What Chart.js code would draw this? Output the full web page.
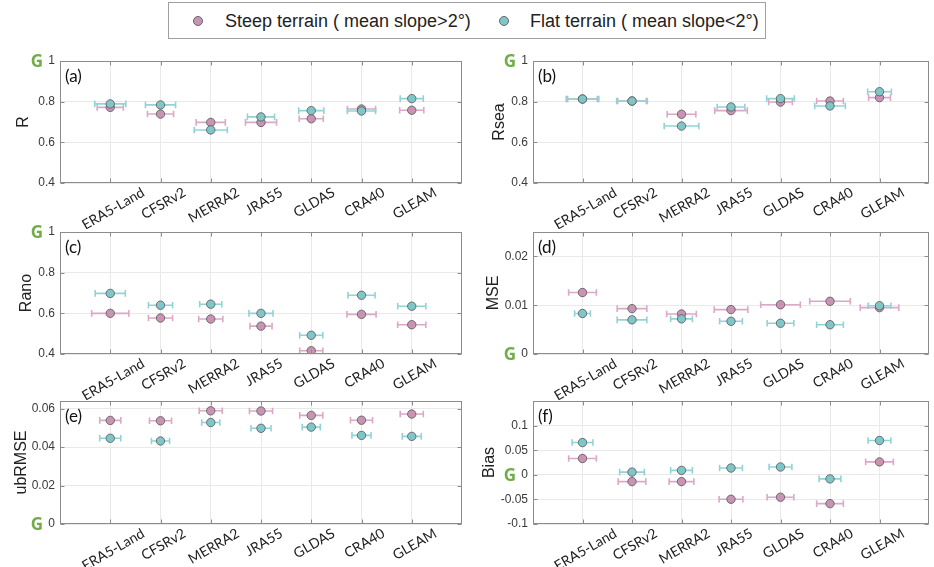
<!DOCTYPE html>
<html>
<head>
<meta charset="utf-8">
<title>Soil moisture products by terrain</title>
<script src="https://cdn.jsdelivr.net/npm/chart.js@4.4.0/dist/chart.umd.min.js"></script>
<style>
  html, body { margin: 0; padding: 0; background: #fff; width: 934px; height: 567px; overflow: hidden; position: relative; }
  canvas { position: absolute; }
  #legend {
    position: absolute; left: 168px; top: 2px; width: 596px; height: 35px;
    border: 1px solid #a0a0a0; font: 18px "Liberation Sans", Arial, sans-serif; color: #222;
  }
  #legend .item { position: absolute; top: 1px; height: 35px; line-height: 35px; white-space: nowrap; }
  #legend .dot {
    position: absolute; top: 13px; width: 10px; height: 10px; border-radius: 50%;
    border: 1px solid #666; box-sizing: border-box;
  }
</style>
</head>
<body>
<div id="legend">
  <span class="dot" style="left:24px;background:#c994b4"></span>
  <span class="item" style="left:56px">Steep terrain ( mean slope&gt;2°)</span>
  <span class="dot" style="left:330px;background:#80c6c9"></span>
  <span class="item" style="left:361px">Flat terrain ( mean slope&lt;2°)</span>
</div>
<canvas id="pa" width="470" height="182" style="left:0;top:47px"></canvas>
<canvas id="pb" width="464" height="182" style="left:470px;top:47px"></canvas>
<canvas id="pc" width="470" height="182" style="left:0;top:218px"></canvas>
<canvas id="pd" width="464" height="182" style="left:470px;top:218px"></canvas>
<canvas id="pe" width="470" height="183" style="left:0;top:387px"></canvas>
<canvas id="pf" width="464" height="183" style="left:470px;top:387px"></canvas>
<script>
const products = ['ERA5-Land', 'CFSRv2', 'MERRA2', 'JRA55', 'GLDAS', 'CRA40', 'GLEAM'];

// R
const rSteep    = [0.772, 0.739, 0.698, 0.698, 0.716, 0.764, 0.758];
const rFlat     = [0.789, 0.784, 0.661, 0.725, 0.756, 0.754, 0.815];
const rSteepErr = [0.26, 0.26, 0.29, 0.31, 0.24, 0.28, 0.24];
const rFlatErr  = [0.31, 0.30, 0.33, 0.27, 0.25, 0.28, 0.23];
// Rsea
const rseaSteep    = [0.813, 0.803, 0.738, 0.756, 0.798, 0.803, 0.820];
const rseaFlat     = [0.813, 0.803, 0.680, 0.774, 0.815, 0.779, 0.849];
const rseaSteepErr = [0.30, 0.29, 0.29, 0.33, 0.24, 0.27, 0.22];
const rseaFlatErr  = [0.33, 0.31, 0.35, 0.28, 0.28, 0.31, 0.24];
// Rano
const ranoSteep    = [0.600, 0.577, 0.572, 0.537, 0.416, 0.595, 0.544];
const ranoFlat     = [0.698, 0.640, 0.645, 0.600, 0.492, 0.689, 0.635];
const ranoSteepErr = [0.37, 0.24, 0.24, 0.22, 0.23, 0.29, 0.28];
const ranoFlatErr  = [0.30, 0.24, 0.22, 0.24, 0.23, 0.27, 0.28];
// MSE
const mseSteep    = [0.0126, 0.0093, 0.0082, 0.0091, 0.0101, 0.0108, 0.0095];
const mseFlat     = [0.0083, 0.0070, 0.0072, 0.0067, 0.0063, 0.0060, 0.0099];
const mseSteepErr = [0.28, 0.30, 0.30, 0.34, 0.40, 0.41, 0.39];
const mseFlatErr  = [0.16, 0.30, 0.22, 0.23, 0.27, 0.27, 0.23];
// ubRMSE
const ubrmseSteep    = [0.0539, 0.0537, 0.0589, 0.0588, 0.0565, 0.0540, 0.0572];
const ubrmseFlat     = [0.0446, 0.0432, 0.0528, 0.0498, 0.0504, 0.0461, 0.0456];
const ubrmseSteepErr = [0.21, 0.22, 0.23, 0.23, 0.23, 0.22, 0.23];
const ubrmseFlatErr  = [0.21, 0.18, 0.18, 0.20, 0.18, 0.19, 0.19];
// Bias
const biasSteep    = [0.0331, -0.0138, -0.0138, -0.0497, -0.0455, -0.0586, 0.0262];
const biasFlat     = [0.0655, 0.0055, 0.0090, 0.0138, 0.0159, -0.0083, 0.0697];
const biasSteepErr = [0.28, 0.28, 0.25, 0.24, 0.27, 0.27, 0.28];
const biasFlatErr  = [0.21, 0.25, 0.22, 0.23, 0.23, 0.22, 0.23];

// y tick values
const corrTicks   = [0.4, 0.6, 0.8, 1];
const mseTicks    = [0, 0.01, 0.02];
const ubrmseTicks = [0, 0.02, 0.04, 0.06];
const biasTicks   = [-0.1, -0.05, 0, 0.05, 0.1];

const PINK = '#c994b4', PINK_BAR = '#dba9c7';
const TEAL = '#80c6c9', TEAL_BAR = '#92d3d6';
const GOOD = '#70ad47';

// horizontal error bars, drawn just under each dataset's markers
const errorBars = {
  id: 'errorBars',
  beforeDatasetDraw(chart, args) {
    const ds = chart.data.datasets[args.index];
    const xs = chart.scales.x, ys = chart.scales.y, ctx = chart.ctx;
    ctx.save();
    ctx.strokeStyle = ds.barColor;
    ctx.lineWidth = 1.6;
    ds.data.forEach(p => {
      const x0 = xs.getPixelForValue(p.x - p.xErr);
      const x1 = xs.getPixelForValue(p.x + p.xErr);
      const y = ys.getPixelForValue(p.y);
      ctx.beginPath();
      ctx.moveTo(x0, y); ctx.lineTo(x1, y);
      ctx.moveTo(x0, y - 3.3); ctx.lineTo(x0, y + 3.3);
      ctx.moveTo(x1, y - 3.3); ctx.lineTo(x1, y + 3.3);
      ctx.stroke();
    });
    ctx.restore();
  }
};

// box, inner ticks, rotated product names, axis title, "G" marker and panel letter
const decor = {
  id: 'decor',
  afterDraw(chart, args, o) {
    const { ctx, chartArea: a } = chart;
    const xs = chart.scales.x, ys = chart.scales.y;
    ctx.save();
    const L = Math.round(a.left) + 0.5, R = Math.round(a.right) - 0.5;
    const T = Math.round(a.top) + 0.5, B = Math.round(a.bottom) - 0.5;
    ctx.strokeStyle = '#8c8c8c';
    ctx.lineWidth = 1;
    ctx.strokeRect(L, T, R - L, B - T);
    ctx.beginPath();
    xs.ticks.forEach(t => {
      const px = Math.round(xs.getPixelForValue(t.value)) + 0.5;
      ctx.moveTo(px, B); ctx.lineTo(px, B - 4);
      ctx.moveTo(px, T); ctx.lineTo(px, T + 4);
    });
    ys.ticks.forEach(t => {
      const py = Math.round(ys.getPixelForValue(t.value)) + 0.5;
      ctx.moveTo(L, py); ctx.lineTo(L + 4, py);
      ctx.moveTo(R, py); ctx.lineTo(R - 4, py);
    });
    ctx.stroke();

    ctx.fillStyle = '#222';
    ctx.font = '14px Lato';
    ctx.textAlign = 'center';
    ctx.textBaseline = 'middle';
    const ang = 30 * Math.PI / 180;
    products.forEach((name, i) => {
      const px = xs.getPixelForValue(i + 1);
      const w = ctx.measureText(name).width;
      const cy = a.bottom + 4 + (w / 2) * Math.sin(ang) + 5 * Math.cos(ang);
      ctx.save();
      ctx.translate(px + 3, cy);
      ctx.rotate(-ang);
      ctx.fillText(name, 0, 0);
      ctx.restore();
    });

    ctx.font = '16px "Liberation Sans", Arial';
    ctx.save();
    ctx.translate(a.left - o.titleOffset, (a.top + a.bottom) / 2);
    ctx.rotate(-Math.PI / 2);
    ctx.fillText(o.title, 0, 0);
    ctx.restore();

    ctx.fillStyle = GOOD;
    ctx.font = 'bold 17px "Open Sans"';
    ctx.textAlign = 'right';
    ctx.fillText('G', a.left - 17, ys.getPixelForValue(o.good) + 1);

    ctx.fillStyle = '#111';
    ctx.font = '17px Lato';
    ctx.textAlign = 'left';
    ctx.fillText(o.letter, a.left + 5, a.top + 16);
    ctx.restore();
  }
};

function points(vals, errs) {
  return vals.map((v, i) => ({ x: i + 1, y: v, xErr: errs[i] }));
}

function fmt(v) {
  return String(+v.toFixed(3));
}

function makePanel(id, p) {
  const left = id === 'pa' || id === 'pc' || id === 'pe';
  new Chart(document.getElementById(id), {
    type: 'scatter',
    data: {
      datasets: [
        { label: 'Steep terrain', data: points(p.steep, p.steepErr), backgroundColor: PINK,
          borderColor: '#555', borderWidth: 0.8, pointRadius: 4.2, barColor: PINK_BAR, order: 2 },
        { label: 'Flat terrain', data: points(p.flat, p.flatErr), backgroundColor: TEAL,
          borderColor: '#555', borderWidth: 0.8, pointRadius: 4.2, barColor: TEAL_BAR, order: 1 }
      ]
    },
    options: {
      responsive: false,
      animation: false,
      events: [],
      layout: { padding: { top: 14, right: left ? 8 : 1, bottom: 0, left: 0 } },
      plugins: {
        legend: { display: false },
        tooltip: { enabled: false },
        decor: { title: p.title, titleOffset: p.titleOffset, good: p.good, letter: p.letter }
      },
      scales: {
        x: {
          type: 'linear', min: 0, max: 8,
          afterBuildTicks: s => { s.ticks = products.map((n, i) => ({ value: i + 1 })); },
          ticks: { display: false },
          grid: { color: '#e9e9e9', drawTicks: false },
          border: { display: false },
          afterFit: s => { s.height = 46; }
        },
        y: {
          min: p.min, max: p.max,
          afterBuildTicks: s => { s.ticks = p.ticks.map(v => ({ value: v })); },
          ticks: { callback: v => fmt(v), color: '#3a3a3a', padding: 5,
                   font: { family: '"Liberation Sans", Arial', size: 12 } },
          grid: { color: '#e9e9e9', drawTicks: false },
          border: { display: false },
          afterFit: s => { s.width = left ? 60 : 63; }
        }
      }
    },
    plugins: [errorBars, decor]
  });
}

makePanel('pa', { steep: rSteep, flat: rFlat, steepErr: rSteepErr, flatErr: rFlatErr,
  min: 0.4, max: 1, ticks: corrTicks, title: 'R', titleOffset: 36, good: 1, letter: '(a)' });
makePanel('pb', { steep: rseaSteep, flat: rseaFlat, steepErr: rseaSteepErr, flatErr: rseaFlatErr,
  min: 0.4, max: 1, ticks: corrTicks, title: 'Rsea', titleOffset: 33, good: 1, letter: '(b)' });
makePanel('pc', { steep: ranoSteep, flat: ranoFlat, steepErr: ranoSteepErr, flatErr: ranoFlatErr,
  min: 0.4, max: 1, ticks: corrTicks, title: 'Rano', titleOffset: 33, good: 1, letter: '(c)' });
makePanel('pd', { steep: mseSteep, flat: mseFlat, steepErr: mseSteepErr, flatErr: mseFlatErr,
  min: 0, max: 0.025, ticks: mseTicks, title: 'MSE', titleOffset: 39, good: 0, letter: '(d)' });
makePanel('pe', { steep: ubrmseSteep, flat: ubrmseFlat, steepErr: ubrmseSteepErr, flatErr: ubrmseFlatErr,
  min: 0, max: 0.064, ticks: ubrmseTicks, title: 'ubRMSE', titleOffset: 38, good: 0, letter: '(e)' });
makePanel('pf', { steep: biasSteep, flat: biasFlat, steepErr: biasSteepErr, flatErr: biasFlatErr,
  min: -0.1, max: 0.15, ticks: biasTicks, title: 'Bias', titleOffset: 43, good: 0, letter: '(f)' });
</script>
</body>
</html>
